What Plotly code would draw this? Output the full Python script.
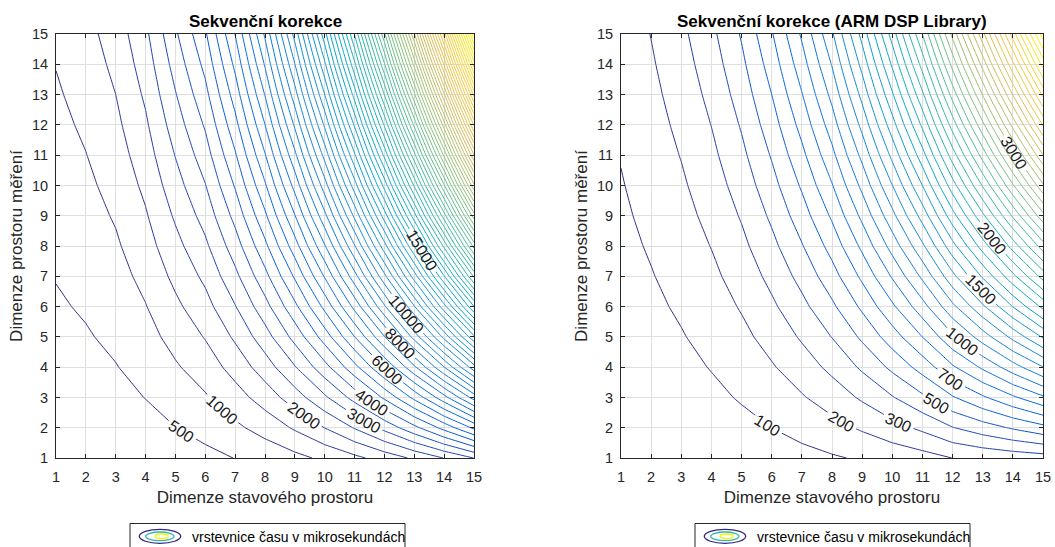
import numpy as np
import plotly.graph_objects as go

# Dimensions of the state space (x) and of the measurement space (y)
dims = list(range(1, 16))

# Sequential correction, measured time in microseconds.
# One list per state dimension (1..15); entries follow measurement dimension 1..15.
seq_by_state = [
    [92, 163, 234, 305, 376, 447, 518, 589, 660, 731, 802, 873, 944, 1015, 1086],
    [109, 197, 285, 373, 461, 549, 637, 725, 813, 901, 989, 1077, 1165, 1253, 1341],
    [143, 256, 369, 482, 595, 708, 821, 934, 1047, 1160, 1273, 1386, 1499, 1612, 1725],
    [195, 352, 509, 666, 823, 980, 1137, 1294, 1451, 1608, 1765, 1922, 2079, 2236, 2393],
    [270, 495, 720, 945, 1170, 1395, 1620, 1845, 2070, 2295, 2520, 2745, 2970, 3195, 3420],
    [370, 660, 950, 1240, 1530, 1820, 2110, 2400, 2690, 2980, 3270, 3560, 3850, 4140, 4430],
    [510, 903, 1296, 1689, 2082, 2475, 2868, 3261, 3654, 4047, 4440, 4833, 5226, 5619, 6012],
    [663, 1193, 1723, 2253, 2783, 3313, 3843, 4373, 4903, 5433, 5963, 6493, 7023, 7553, 8083],
    [862, 1564, 2266, 2968, 3670, 4372, 5074, 5776, 6478, 7180, 7882, 8584, 9286, 9988, 10690],
    [1100, 2008, 2916, 3824, 4732, 5640, 6548, 7456, 8364, 9272, 10180, 11088, 11996, 12904, 13812],
    [1381, 2535, 3689, 4843, 5997, 7151, 8305, 9459, 10613, 11767, 12921, 14075, 15229, 16383, 17537],
    [1708, 3150, 4592, 6034, 7476, 8918, 10360, 11802, 13244, 14686, 16128, 17570, 19012, 20454, 21896],
    [2085, 3861, 5637, 7413, 9189, 10965, 12741, 14517, 16293, 18069, 19845, 21621, 23397, 25173, 26949],
    [2515, 4674, 6833, 8992, 11151, 13310, 15469, 17628, 19787, 21946, 24105, 26264, 28423, 30582, 32741],
    [3010, 5606, 8202, 10798, 13394, 15990, 18586, 21182, 23778, 26374, 28970, 31566, 34162, 36758, 39354],
]

# Sequential correction with the ARM DSP Library, time in microseconds (same layout).
arm_by_state = [
    [11, 20.3, 29.6, 38.9, 48.2, 57.5, 66.8, 76.1, 85.4, 94.7, 104.0, 113.3, 122.6, 131.9, 141.2],
    [15, 28.4, 41.8, 55.2, 68.6, 82.0, 95.4, 108.8, 122.2, 135.6, 149.0, 162.4, 175.8, 189.2, 202.6],
    [21, 39.3, 57.6, 75.9, 94.2, 112.5, 130.8, 149.1, 167.4, 185.7, 204.0, 222.3, 240.6, 258.9, 277.2],
    [30, 54.7, 79.4, 104.1, 128.8, 153.5, 178.2, 202.9, 227.6, 252.3, 277.0, 301.7, 326.4, 351.1, 375.8],
    [41, 74.5, 108.0, 141.5, 175.0, 208.5, 242.0, 275.5, 309.0, 342.5, 376.0, 409.5, 443.0, 476.5, 510.0],
    [55, 100.4, 145.8, 191.2, 236.6, 282.0, 327.4, 372.8, 418.2, 463.6, 509.0, 554.4, 599.8, 645.2, 690.6],
    [71, 131.3, 191.6, 251.9, 312.2, 372.5, 432.8, 493.1, 553.4, 613.7, 674.0, 734.3, 794.6, 854.9, 915.2],
    [90, 168.2, 246.4, 324.6, 402.8, 481.0, 559.2, 637.4, 715.6, 793.8, 872.0, 950.2, 1028.4, 1106.6, 1184.8],
    [111, 212.7, 314.4, 416.1, 517.8, 619.5, 721.2, 822.9, 924.6, 1026.3, 1128.0, 1229.7, 1331.4, 1433.1, 1534.8],
    [135, 264.3, 393.6, 522.9, 652.2, 781.5, 910.8, 1040.1, 1169.4, 1298.7, 1428.0, 1557.3, 1686.6, 1815.9, 1945.2],
    [161, 321, 481, 641, 801, 961, 1121, 1281, 1441, 1601, 1761, 1921, 2081, 2241, 2401],
    [201, 396, 591, 786, 981, 1176, 1371, 1566, 1761, 1956, 2151, 2346, 2541, 2736, 2931],
    [222, 454, 686, 918, 1150, 1382, 1614, 1846, 2078, 2310, 2542, 2774, 3006, 3238, 3470],
    [240, 512, 784, 1056, 1328, 1603, 1872, 2144, 2416, 2688, 2960, 3232, 3504, 3776, 4048],
    [256, 570, 884, 1198, 1512, 1826, 2140, 2454, 2768, 3082, 3396, 3710, 4024, 4338, 4652],
]

# Contour spacing and the levels that carry a text label
seq_step = 500
arm_step = 100
seq_labels = [500, 1000, 2000, 3000, 4000, 6000, 8000, 10000, 15000]
arm_labels = [100, 200, 300, 500, 700, 1000, 1500, 2000, 3000]
# state dimension at which each label sits on its contour
seq_label_x = [5.2, 6.55, 9.3, 11.3, 11.57, 12.07, 12.52, 12.74, 13.25]
arm_label_x = [5.86, 8.31, 10.2, 11.47, 11.93, 12.32, 12.94, 13.31, 14.05]

titles = ["Sekvenční korekce", "Sekvenční korekce (ARM DSP Library)"]
x_title = "Dimenze stavového prostoru"
y_title = "Dimenze prostoru měření"
legend_text = "vrstevnice času v mikrosekundách"

# MATLAB parula colormap
parula = [
    [0.0, "#352a87"], [0.125, "#0363e1"], [0.25, "#1485d4"],
    [0.375, "#06a7c6"], [0.5, "#38b99e"], [0.625, "#92bf73"],
    [0.75, "#d9ba56"], [0.875, "#fcce2e"], [1.0, "#f9fb0e"],
]

W, H = 1055, 547
FONT = "Liberation Sans, Arial, Helvetica, sans-serif"
AX_COLOR = "#262626"
LABEL_SIZE = 16

# axes boxes in pixels: (left, right) ; shared top/bottom
boxes = [(56, 474), (621, 1043)]
top_px, bot_px = 34, 458


def fx(p):
    return p / W


def fy(p):
    return 1 - p / H


def label_geometry(z, x0, lev, sx, sy):
    """Point of contour `lev` at state dimension x0 and its on-screen direction."""
    j = min(int(np.floor(x0)) - 1, 13)
    tx = x0 - (j + 1)
    col = z[:, j] * (1 - tx) + z[:, j + 1] * tx
    for i in range(14):
        a, b = col[i], col[i + 1]
        if (a - lev) * (b - lev) <= 0 and a != b:
            ty = (lev - a) / (b - a)
            y0 = i + 1 + ty
            dzdx = (z[i, j + 1] - z[i, j]) * (1 - ty) + (z[i + 1, j + 1] - z[i + 1, j]) * ty
            dzdy = b - a
            # tangent direction in screen pixels (y grows downwards)
            ux, uy = dzdy * sx, dzdx * sy
            if ux < 0:
                ux, uy = -ux, -uy
            n = np.hypot(ux, uy)
            return y0, ux / n, uy / n
    return None


fig = go.Figure()

panels = [
    (np.array(seq_by_state, dtype=float).T, seq_step, seq_labels, seq_label_x),
    (np.array(arm_by_state, dtype=float).T, arm_step, arm_labels, arm_label_x),
]

annotations = []
shapes = []

for k, (z, step, labs, lab_x) in enumerate(panels):
    xa = "x" if k == 0 else "x2"
    ya = "y" if k == 0 else "y2"
    zmin, zmax = float(z.min()), float(z.max())
    first = step * np.ceil(zmin / step)
    last = step * np.floor(zmax / step)
    fig.add_trace(go.Contour(
        x=dims, y=dims, z=z, xaxis=xa, yaxis=ya,
        autocontour=False,
        contours=dict(coloring="lines", start=first, end=last, size=step, showlabels=False),
        line=dict(width=1, smoothing=0),
        colorscale=parula, showscale=False, hoverinfo="skip",
    ))

    left, right = boxes[k]
    sx = (right - left) / 14.0
    sy = (bot_px - top_px) / 14.0
    gx, gy = [], []
    for lev, x0 in zip(labs, lab_x):
        g = label_geometry(z, x0, lev, sx, sy)
        if g is None:
            continue
        y0, ux, uy = g
        half = (len(str(lev)) * 0.556 * LABEL_SIZE + 6) / 2
        dx, dy = ux * half / sx, -uy * half / sy
        gx += [x0 - dx, x0 + dx, None]
        gy += [y0 - dy, y0 + dy, None]
        ang = float(np.degrees(np.arctan2(uy, ux)))
        annotations.append(dict(
            x=x0, y=y0, xref=xa, yref=ya, text=str(lev), showarrow=False,
            textangle=ang, xanchor="center", yanchor="middle",
            font=dict(family=FONT, size=LABEL_SIZE, color="#1a1a1a"),
        ))
    # break the labelled contour under its text
    fig.add_trace(go.Scatter(
        x=gx, y=gy, xaxis=xa, yaxis=ya, mode="lines",
        line=dict(color="white", width=5), hoverinfo="skip", showlegend=False,
    ))

    # panel title
    annotations.append(dict(
        x=fx((left + right) / 2), y=fy(21), xref="paper", yref="paper",
        text="<b>" + titles[k] + "</b>", showarrow=False,
        xanchor="center", yanchor="middle",
        font=dict(family=FONT, size=17, color="#000000"),
    ))

    # legend box below each panel
    lb = 130 if k == 0 else 695
    shapes.append(dict(type="rect", xref="paper", yref="paper",
                       x0=fx(lb), x1=fx(lb + 275), y0=fy(560), y1=fy(523.5),
                       line=dict(color=AX_COLOR, width=1), fillcolor="white"))
    for (a0, b0, a1, b1, c) in [(9.3, 529.3, 50.7, 543.3, "#352a87"),
                                (15.7, 532.0, 44.0, 540.7, "#2fb6b0"),
                                (25.0, 534.0, 38.3, 538.7, "#f2f20c")]:
        shapes.append(dict(type="circle", xref="paper", yref="paper",
                           x0=fx(lb + a0), x1=fx(lb + a1), y0=fy(b1), y1=fy(b0),
                           line=dict(color=c, width=1.3), fillcolor="rgba(0,0,0,0)"))
    annotations.append(dict(
        x=fx(lb + 60), y=fy(536.7), xref="paper", yref="paper",
        text=legend_text, showarrow=False, xanchor="left", yanchor="middle",
        font=dict(family=FONT, size=14, color="#000000"),
    ))

axis_common = dict(
    range=[1, 15], tick0=1, dtick=1, ticks="inside", ticklen=4,
    tickcolor=AX_COLOR, tickwidth=1, showline=True, linecolor=AX_COLOR,
    linewidth=1, mirror="ticks", showgrid=True, gridcolor="#dfdfdf",
    gridwidth=1, zeroline=False, automargin=False,
    tickfont=dict(family=FONT, size=14.5, color=AX_COLOR),
)
ydom = [fy(bot_px), fy(top_px)]

fig.update_layout(
    width=W, height=H,
    margin=dict(l=0, r=0, t=0, b=0),
    paper_bgcolor="white", plot_bgcolor="white",
    showlegend=False,
    xaxis=dict(axis_common, domain=[fx(boxes[0][0]), fx(boxes[0][1])], anchor="y",
               ticklabelstandoff=6,
               title=dict(text=x_title, standoff=6, font=dict(family=FONT, size=17, color=AX_COLOR))),
    yaxis=dict(axis_common, domain=ydom, anchor="x", ticklabelstandoff=4,
               title=dict(text=y_title, standoff=5, font=dict(family=FONT, size=17, color=AX_COLOR))),
    xaxis2=dict(axis_common, domain=[fx(boxes[1][0]), fx(boxes[1][1])], anchor="y2",
                ticklabelstandoff=6,
                title=dict(text=x_title, standoff=6, font=dict(family=FONT, size=17, color=AX_COLOR))),
    yaxis2=dict(axis_common, domain=ydom, anchor="x2", ticklabelstandoff=4,
                title=dict(text=y_title, standoff=5, font=dict(family=FONT, size=17, color=AX_COLOR))),
    annotations=annotations,
    shapes=shapes,
)

fig.write_html("out.html")
